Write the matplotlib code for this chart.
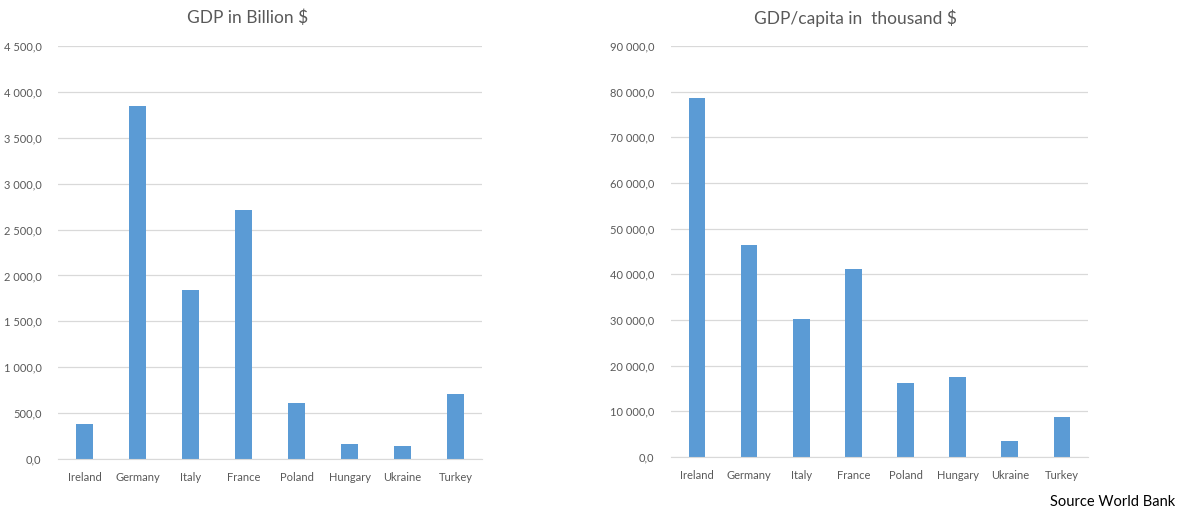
import matplotlib
matplotlib.use("Agg")
import matplotlib.pyplot as plt
from matplotlib.ticker import FuncFormatter, MultipleLocator

# data
countries = ["Ireland", "Germany", "Italy", "France", "Poland", "Hungary", "Ukraine", "Turkey"]
gdp_billion = [381, 3846, 1841, 2713, 610, 163, 142, 708]
gdp_per_capita = [78600, 46400, 30200, 41200, 16200, 17500, 3500, 8800]

plt.rcParams["font.family"] = ["Lato", "DejaVu Sans"]

BAR = "#5b9bd5"
GRID = "#d9d9d9"
TXT = "#595959"


def fmt(v, pos):
    s = f"{v:,.1f}"
    return s.replace(",", " ").replace(".", ",")


def style(ax, top, step):
    ax.set_ylim(0, top)
    ax.set_xlim(-0.5, len(countries) - 0.5)
    ax.yaxis.set_major_locator(MultipleLocator(step))
    ax.yaxis.set_major_formatter(FuncFormatter(fmt))
    ax.grid(axis="y", color=GRID, linewidth=0.9)
    ax.set_axisbelow(True)
    for s in ["top", "right", "left"]:
        ax.spines[s].set_visible(False)
    ax.spines["bottom"].set_color(GRID)
    ax.tick_params(axis="both", length=0, labelsize=8, labelcolor=TXT)
    ax.tick_params(axis="x", pad=9)
    ax.tick_params(axis="y", pad=12)


fig = plt.figure(figsize=(11.8, 5.12), dpi=100)

ax1 = fig.add_axes([0.0492, 0.1035, 0.3593, 0.8066])
ax1.bar(countries, gdp_billion, width=0.32, color=BAR)
style(ax1, 4500, 500)

ax2 = fig.add_axes([0.5686, 0.1074, 0.3534, 0.8027])
ax2.bar(countries, gdp_per_capita, width=0.32, color=BAR)
style(ax2, 90000, 10000)

fig.text(248 / 1180, 1 - 18 / 512, "GDP in Billion $", ha="center", va="center",
         fontsize=12.5, color=TXT)
fig.text(855 / 1180, 1 - 18 / 512, "GDP/capita in  thousand $", ha="center", va="center",
         fontsize=12.5, color=TXT)
fig.text(1175 / 1180, 1 - 502 / 512, "Source World Bank", ha="right", va="center",
         fontsize=10.5, color="black")

fig.savefig("out.png", dpi=100, facecolor="white")
